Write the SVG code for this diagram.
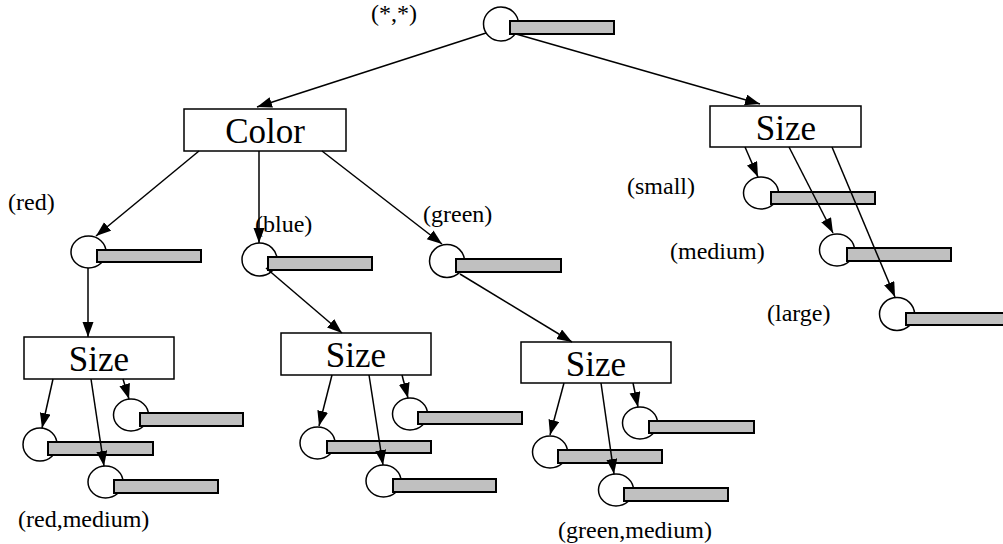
<svg xmlns="http://www.w3.org/2000/svg" width="1003" height="544" viewBox="0 0 1003 544">
<style>
.c{fill:#fff;stroke:#000;stroke-width:1.5}
.r{fill:#c0c0c0;stroke:#000;stroke-width:2}
.b{fill:#fff;stroke:#000;stroke-width:1.5}
.t{font-family:"Liberation Serif","Times New Roman",serif;font-size:35px;fill:#000;text-anchor:middle}
.l{font-family:"Liberation Serif","Times New Roman",serif;font-size:24px;fill:#000}
#edges line{stroke:#000;stroke-width:1.5;marker-end:url(#ah)}
</style>
<defs>
<marker id="ah" markerUnits="userSpaceOnUse" markerWidth="16" markerHeight="12" refX="15" refY="5.5" orient="auto">
<path d="M0,0 L15,5.5 L0,11 z" fill="#000"/>
</marker>
</defs>
<rect width="1003" height="544" fill="#fff"/>
<g id="root"><ellipse class="c" cx="501" cy="24" rx="17.5" ry="17"/><rect class="r" x="510" y="21" width="104" height="13"/><text class="l" x="371" y="21">(*,*)</text></g>
<g id="color"><rect class="b" x="184" y="109" width="162" height="42"/><text class="t" x="265" y="143">Color</text></g>
<g id="size-top"><rect class="b" x="710" y="106" width="151" height="41"/><text class="t" x="786" y="140">Size</text></g>
<g id="red"><ellipse class="c" cx="88.5" cy="252" rx="17.5" ry="16"/><rect class="r" x="97" y="250" width="104" height="12"/><text class="l" x="8" y="210">(red)</text></g>
<g id="blue"><ellipse class="c" cx="259.5" cy="259.5" rx="17.5" ry="16.5"/><rect class="r" x="268" y="257" width="104" height="13"/><text class="l" x="255" y="232">(blue)</text></g>
<g id="green"><ellipse class="c" cx="447" cy="261" rx="17.5" ry="16.5"/><rect class="r" x="456" y="259" width="105" height="13"/><text class="l" x="423" y="222">(green)</text></g>
<g id="small"><ellipse class="c" cx="761" cy="193" rx="17.5" ry="16"/><rect class="r" x="771" y="192" width="104" height="12"/><text class="l" x="627" y="194">(small)</text></g>
<g id="medium"><ellipse class="c" cx="837" cy="250" rx="17.5" ry="16"/><rect class="r" x="847" y="248" width="104" height="13"/><text class="l" x="670" y="259">(medium)</text></g>
<g id="large"><ellipse class="c" cx="897" cy="314" rx="17.5" ry="16.5"/><rect class="r" x="906" y="313" width="110" height="12"/><text class="l" x="767" y="321">(large)</text></g>
<g id="size-red"><rect class="b" x="24" y="337" width="150" height="42"/><text class="t" x="99" y="371">Size</text></g>
<g id="size-blue"><rect class="b" x="281" y="333" width="150" height="42"/><text class="t" x="356" y="367">Size</text></g>
<g id="size-green"><rect class="b" x="521" y="342" width="150" height="41"/><text class="t" x="596" y="376">Size</text></g>
<g id="red-small"><ellipse class="c" cx="40" cy="444.5" rx="17" ry="16.5"/><rect class="r" x="48" y="442" width="105" height="13"/></g>
<g id="red-medium"><ellipse class="c" cx="105.5" cy="482" rx="17.5" ry="16"/><rect class="r" x="114" y="480" width="104" height="13"/><text class="l" x="18" y="527">(red,medium)</text></g>
<g id="red-large"><ellipse class="c" cx="131" cy="415" rx="17.5" ry="16"/><rect class="r" x="140" y="413" width="103" height="13"/></g>
<g id="blue-small"><ellipse class="c" cx="317.5" cy="443" rx="17.5" ry="16"/><rect class="r" x="327" y="441" width="104" height="12"/></g>
<g id="blue-medium"><ellipse class="c" cx="383.5" cy="481" rx="17.5" ry="16"/><rect class="r" x="393" y="479" width="103" height="13"/></g>
<g id="blue-large"><ellipse class="c" cx="410" cy="414" rx="17.5" ry="16"/><rect class="r" x="418" y="412" width="104" height="12"/></g>
<g id="green-small"><ellipse class="c" cx="550" cy="452" rx="17.5" ry="16"/><rect class="r" x="558" y="450" width="104" height="13"/></g>
<g id="green-medium"><ellipse class="c" cx="616" cy="490" rx="17.5" ry="16"/><rect class="r" x="624" y="488" width="104" height="13"/><text class="l" x="558" y="538">(green,medium)</text></g>
<g id="green-large"><ellipse class="c" cx="640" cy="423" rx="17.5" ry="16"/><rect class="r" x="649" y="421" width="105" height="12"/></g>
<g id="edges">
<line x1="486" y1="33" x2="257" y2="107"/>
<line x1="516" y1="34" x2="760" y2="104"/>
<line x1="199" y1="151" x2="96" y2="236"/>
<line x1="259" y1="151" x2="259" y2="243"/>
<line x1="322" y1="151" x2="442" y2="244"/>
<line x1="88" y1="268" x2="88" y2="337"/>
<line x1="266" y1="268" x2="342" y2="333"/>
<line x1="460" y1="274" x2="572" y2="342"/>
<line x1="745" y1="147" x2="758" y2="177"/>
<line x1="789" y1="147" x2="833" y2="233"/>
<line x1="832" y1="147" x2="895" y2="297"/>
<line x1="53" y1="379" x2="42" y2="428"/>
<line x1="91" y1="379" x2="104" y2="466"/>
<line x1="123" y1="379" x2="129" y2="399"/>
<line x1="332" y1="375" x2="319" y2="426"/>
<line x1="369" y1="375" x2="383" y2="465"/>
<line x1="402" y1="375" x2="408" y2="398"/>
<line x1="564" y1="383" x2="550" y2="435"/>
<line x1="601" y1="383" x2="614" y2="474"/>
<line x1="633" y1="383" x2="638" y2="407"/>
</g>
</svg>
